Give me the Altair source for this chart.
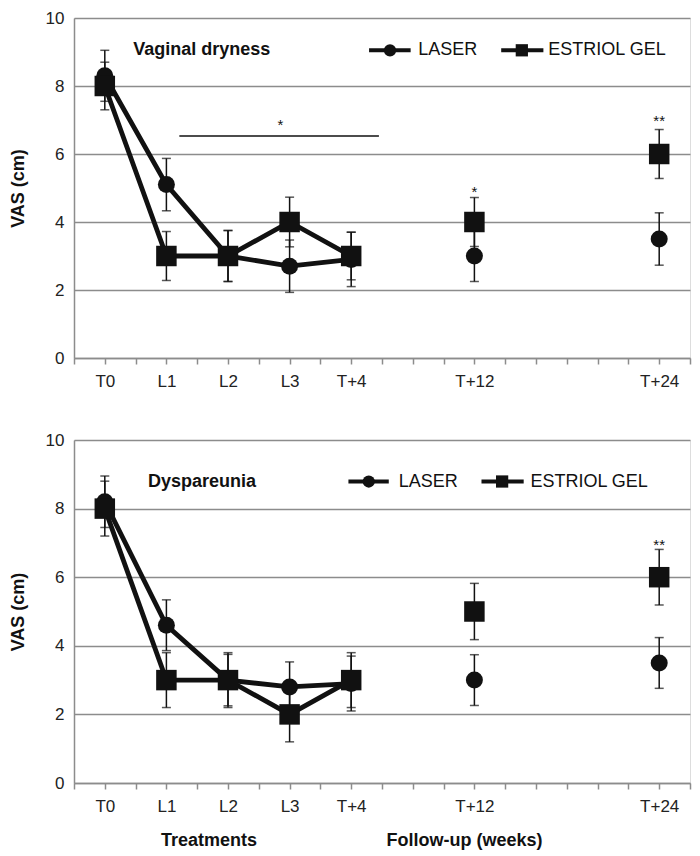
import altair as alt
import pandas as pd

# ---------------- data ----------------
timepoints = ["T0", "L1", "L2", "L3", "T+4", "T+12", "T+24"]
axis_pos = [1, 3, 5, 7, 9, 13, 19]          # position of each time point on the axis (half-steps)
phase = ["treatment"] * 5 + ["follow-up"] * 2

series_names = ["LASER", "ESTRIOL GEL"]

# Vaginal dryness
vd_laser = [8.3, 5.1, 3.0, 2.7, 2.9, 3.0, 3.5]
vd_laser_err = [0.75, 0.77, 0.75, 0.77, 0.8, 0.75, 0.77]
vd_estriol = [8.0, 3.0, 3.0, 4.0, 3.0, 4.0, 6.0]
vd_estriol_err = [0.7, 0.72, 0.75, 0.73, 0.7, 0.72, 0.72]

# Dyspareunia
dy_laser = [8.2, 4.6, 3.0, 2.8, 2.9, 3.0, 3.5]
dy_laser_err = [0.75, 0.74, 0.8, 0.73, 0.8, 0.74, 0.74]
dy_estriol = [8.0, 3.0, 3.0, 2.0, 3.0, 5.0, 6.0]
dy_estriol_err = [0.8, 0.8, 0.75, 0.8, 0.8, 0.82, 0.81]

# significance marks: (label, x, y)
vd_stars = [("*", 6.7, 6.96), ("*", 13.0, 5.0), ("**", 19.0, 7.06)]
vd_sig_line = [(3.42, 9.9, 6.53)]
dy_stars = [("**", 19.0, 7.05)]

y_ticks = [0, 2, 4, 6, 8, 10]
x_ticks = list(range(0, 21))

# ---------------- styling ----------------
W = 616
H_TOP = 340
H_BOT = 343
FONT = "Liberation Sans"
INK = "#111111"
GRID = "#8c8c8c"

label_expr = "".join(
    f"datum.value == {p} ? '{t}' : " for p, t in zip(axis_pos, timepoints)
) + "''"

xscale = alt.Scale(domain=[0, 20], nice=False, zero=False)
yscale = alt.Scale(domain=[0, 10], nice=False)

xaxis = alt.Axis(
    values=x_ticks, labelExpr=label_expr, grid=False, tickSize=6, tickColor=GRID,
    tickWidth=1.5, domainColor=GRID, domainWidth=1.5, labelFont=FONT,
    labelFontSize=17, labelColor="#222222", labelPadding=9, title=None,
    labelOverlap=False,
)
yaxis = alt.Axis(
    values=y_ticks, grid=True, gridColor=GRID, gridWidth=1.5, tickSize=0,
    domainColor=GRID, domainWidth=1.5, labelFont=FONT, labelFontSize=17,
    labelColor="#222222", labelPadding=10, title="VAS (cm)", titleFont=FONT,
    titleFontSize=18, titleFontWeight="bold", titleColor=INK, titlePadding=18,
)


def X(field):
    return alt.X(field, type="quantitative", scale=xscale, axis=xaxis)


def Y(field):
    return alt.Y(field, type="quantitative", scale=yscale, axis=yaxis)


def panel(name, laser, laser_err, estriol, estriol_err, name_pos, legend, stars,
          sig_lines, bottom, height):
    rows = []
    for s, vals, errs in [(series_names[0], laser, laser_err),
                          (series_names[1], estriol, estriol_err)]:
        for i, tp in enumerate(timepoints):
            rows.append(dict(pos=axis_pos[i], tp=tp, series=s, phase=phase[i],
                             value=vals[i], lo=vals[i] - errs[i], hi=vals[i] + errs[i]))
    df = pd.DataFrame(rows)
    base = alt.Chart(df)

    err = base.mark_rule(color=INK, strokeWidth=1.5).encode(x=X("pos"), y=Y("lo"), y2="hi")
    cap_lo = base.mark_tick(color=INK, orient="horizontal", size=9, thickness=1.5).encode(
        x=X("pos"), y=Y("lo"))
    cap_hi = base.mark_tick(color=INK, orient="horizontal", size=9, thickness=1.5).encode(
        x=X("pos"), y=Y("hi"))
    lines = base.transform_filter(alt.datum.phase == "treatment").mark_line(
        color=INK, strokeWidth=4.8).encode(x=X("pos"), y=Y("value"), detail="series:N")
    pts_laser = base.transform_filter(alt.datum.series == series_names[0]).mark_point(
        shape="circle", filled=True, size=289, color=INK, opacity=1).encode(
        x=X("pos"), y=Y("value"))
    pts_est = base.transform_filter(alt.datum.series == series_names[1]).mark_point(
        shape="square", filled=True, size=420, color=INK, opacity=1).encode(
        x=X("pos"), y=Y("value"))

    # panel name
    name_df = pd.DataFrame([dict(label=name, pos=name_pos[0], value=name_pos[1])])
    name_txt = alt.Chart(name_df).mark_text(
        align="left", baseline="middle", font=FONT, fontSize=18, fontWeight="bold",
        color=INK).encode(x=X("pos"), y=Y("value"), text="label:N")

    # legend (drawn manually, Excel-style)
    leg_df = pd.DataFrame(legend, columns=["series", "pos", "pos2", "sym", "txt", "value"])
    leg_line = alt.Chart(leg_df).mark_rule(color=INK, strokeWidth=4).encode(
        x=X("pos"), x2="pos2", y=Y("value"))
    leg_c = alt.Chart(leg_df).transform_filter(alt.datum.series == series_names[0]).mark_point(
        shape="circle", filled=True, size=150, color=INK, opacity=1).encode(
        x=X("sym"), y=Y("value"))
    leg_s = alt.Chart(leg_df).transform_filter(alt.datum.series == series_names[1]).mark_point(
        shape="square", filled=True, size=150, color=INK, opacity=1).encode(
        x=X("sym"), y=Y("value"))
    leg_t = alt.Chart(leg_df).mark_text(
        align="left", baseline="middle", font=FONT, fontSize=18, color=INK).encode(
        x=X("txt"), y=Y("value"), text="series:N")

    star_df = pd.DataFrame(stars, columns=["label", "pos", "value"])
    star_txt = alt.Chart(star_df).mark_text(
        align="center", baseline="alphabetic", dy=8.5, font=FONT, fontSize=15,
        color=INK).encode(x=X("pos"), y=Y("value"), text="label:N")

    layers = [err, cap_lo, cap_hi, lines, pts_laser, pts_est, name_txt,
              leg_line, leg_c, leg_s, leg_t, star_txt]

    if sig_lines:
        sig_df = pd.DataFrame(sig_lines, columns=["pos", "pos2", "value"])
        layers.append(alt.Chart(sig_df).mark_rule(color=INK, strokeWidth=1.5).encode(
            x=X("pos"), x2="pos2", y=Y("value")))

    if bottom:
        t_df = pd.DataFrame(bottom, columns=["label", "pos"])
        layers.append(alt.Chart(t_df).mark_text(
            align="center", baseline="middle", font=FONT, fontSize=18, fontWeight="bold",
            color=INK).encode(x=X("pos"), y=alt.value(height + 58), text="label:N"))

    return alt.layer(*layers).properties(width=W, height=height)


top = panel(
    "Vaginal dryness", vd_laser, vd_laser_err, vd_estriol, vd_estriol_err,
    (1.92, 9.05),
    [(series_names[0], 9.58, 10.93, 10.26, 11.18, 9.05),
     (series_names[1], 13.87, 15.24, 14.54, 15.40, 9.05)],
    vd_stars, vd_sig_line, None, H_TOP)

bottom = panel(
    "Dyspareunia", dy_laser, dy_laser_err, dy_estriol, dy_estriol_err,
    (2.4, 8.79),
    [(series_names[0], 8.91, 10.22, 9.57, 10.54, 8.79),
     (series_names[1], 13.23, 14.60, 13.90, 14.82, 8.79)],
    dy_stars, None,
    [("Treatments", 4.38), ("Follow-up (weeks)", 12.68)], H_BOT)

chart = alt.vconcat(top, bottom, spacing=40).properties(padding=0).configure_view(
    strokeWidth=0).configure(font=FONT)

chart.save("out.html", embed_options={"renderer": "svg", "actions": False})
